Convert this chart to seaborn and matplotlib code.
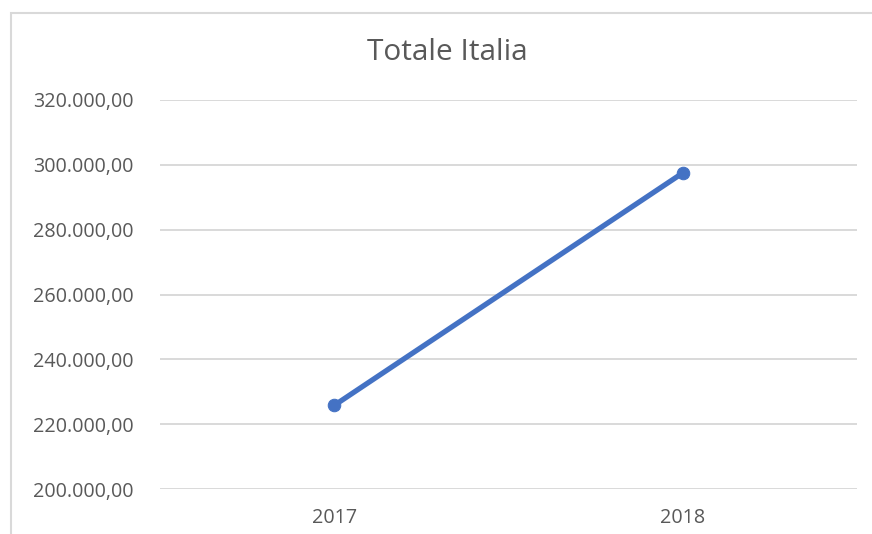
import matplotlib
matplotlib.use("Agg")
import matplotlib.pyplot as plt
import matplotlib.ticker as mticker
from matplotlib.patches import Rectangle
import seaborn as sns
import pandas as pd

# dati
anni = ["2017", "2018"]
valori = [225800, 297500]
y_ticks = [200000, 220000, 240000, 260000, 280000, 300000, 320000]

df = pd.DataFrame({"anno": anni, "totale": valori})

sns.set_style("white")
plt.rcParams["font.family"] = ["Open Sans", "DejaVu Sans"]

W, H = 872, 534
fig = plt.figure(figsize=(W / 100, H / 100), dpi=100)
ax = fig.add_axes([160 / W, 45 / H, 697 / W, 389 / H])

sns.lineplot(data=df, x="anno", y="totale", ax=ax, color="#4472C4",
             linewidth=3.8, marker="o", markersize=9,
             markeredgecolor="#4472C4", sort=False)

ax.set_xlim(-0.5, 1.5)
ax.set_ylim(200000, 320000)
ax.set_yticks(y_ticks)


def fmt_it(v, pos):
    s = f"{v:,.2f}"
    return s.replace(",", "X").replace(".", ",").replace("X", ".")


ax.yaxis.set_major_formatter(mticker.FuncFormatter(fmt_it))
ax.grid(axis="y", color="#d9d9d9", linewidth=1.4)
ax.set_axisbelow(True)
for s in ax.spines.values():
    s.set_visible(False)
ax.tick_params(axis="y", length=0, pad=19, labelsize=14.2, labelcolor="#595959")
ax.tick_params(axis="x", length=0, pad=14, labelsize=14.2, labelcolor="#595959")
ax.set_xlabel("")
ax.set_ylabel("")

fig.text(447 / W, 1 - 52 / H, "Totale Italia", ha="center", va="center",
         fontsize=21.5, color="#595959")

# bordo del riquadro del grafico
fig.patches.append(Rectangle((10.5 / W, -0.1), 1.2, 1.1 - 13.5 / H,
                             transform=fig.transFigure, fill=False,
                             edgecolor="#d9d9d9", linewidth=1.5))

fig.savefig("out.png", dpi=100)
